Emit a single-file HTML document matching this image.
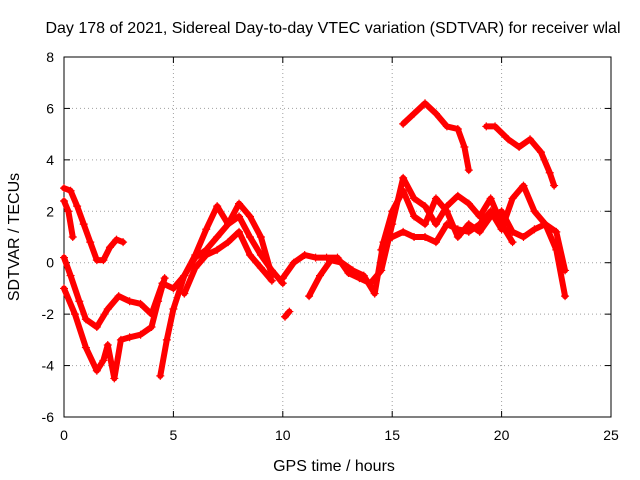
<!DOCTYPE html>
<html><head><meta charset="utf-8"><style>
body{margin:0;background:#fff;}
svg{display:block;font-family:"Liberation Sans",sans-serif;font-size:14px;}
</style></head><body>
<svg id="chart" width="640" height="480">
<rect width="640" height="480" fill="#fff"/>
<text x="333" y="33" text-anchor="middle" font-size="16">Day 178 of 2021, Sidereal Day-to-day VTEC variation (SDTVAR) for receiver wlal</text>
<text x="334" y="471" text-anchor="middle" font-size="16">GPS time / hours</text>
<text transform="translate(19,237) rotate(-90)" text-anchor="middle" font-size="16">SDTVAR / TECUs</text>
<g id="grid"></g><g id="axes"></g><g id="marks"></g>
</svg>
<script>
const xTicks=[0,5,10,15,20,25];
const yTicks=[-6,-4,-2,0,2,4,6,8];
const s1=[[0,2.9],[0.3,2.8],[0.6,2.2],[0.9,1.5],[1.2,0.8],[1.5,0.1],[1.8,0.1],[2.1,0.6],[2.4,0.9],[2.7,0.8]];
const s2=[[0,2.4],[0.2,2.0],[0.4,1.0]];
const s3=[[0,0.2],[0.3,-0.5],[0.7,-1.5],[1.0,-2.2],[1.5,-2.5],[2.0,-1.8],[2.5,-1.3],[3.0,-1.5],[3.5,-1.6],[4.0,-2.0],[4.5,-0.8],[5.0,-1.0],[5.5,-0.5],[6.0,0.3],[6.5,1.3],[7.0,2.2],[7.5,1.5],[8.0,2.3],[8.5,1.8],[9.0,1.0],[9.5,-0.5]];
const s4=[[0,-1.0],[0.5,-2.0],[1.0,-3.3],[1.5,-4.2],[1.8,-3.8],[2.0,-3.2],[2.3,-4.5],[2.6,-3.0],[3.0,-2.9],[3.5,-2.8],[4.0,-2.5],[4.3,-1.5],[4.6,-0.6]];
const s5=[[4.4,-4.4],[4.7,-3.0],[5.0,-1.8],[5.5,-0.5],[6.0,0.2],[6.5,0.5],[7.0,1.0],[7.5,1.5],[8.0,1.8],[8.5,1.0],[9.0,0.3],[9.5,-0.3],[10.0,-0.8]];
const s6=[[5.5,-1.2],[6.0,-0.2],[6.5,0.3],[7.0,0.5],[7.5,0.8],[8.0,1.2],[8.5,0.3],[9.0,-0.2],[9.5,-0.7]];
const s7=[[10.1,-2.1],[10.3,-1.9]];
const s8=[[10.0,-0.6],[10.5,0.0],[11.0,0.3],[11.5,0.2],[12.0,0.2],[12.5,0.2],[13.0,-0.4],[13.5,-0.6],[14.0,-0.8],[14.5,-0.3],[15.0,1.5],[15.5,3.3],[16.0,2.5],[16.5,2.2],[17.0,1.5],[17.5,2.2],[18.0,2.6],[18.5,2.3],[19.0,1.8],[19.5,2.5],[20.0,1.5],[20.5,0.8]];
const s9=[[11.2,-1.3],[11.7,-0.5],[12.2,0.1],[12.7,0.0],[13.2,-0.3],[13.7,-0.5],[14.2,-1.2],[14.6,0.8],[15.0,1.0],[15.5,1.2],[16.0,1.0],[16.5,1.0],[17.0,0.8],[17.5,1.5],[18.0,1.3],[18.5,1.2],[19.0,1.5],[19.5,2.0],[20.0,1.3],[20.5,2.5],[21.0,3.0],[21.5,2.0],[22.0,1.5],[22.5,0.5],[22.9,-1.3]];
const s10=[[15.5,5.4],[16.0,5.8],[16.5,6.2],[17.0,5.8],[17.5,5.3],[18.0,5.2],[18.3,4.5],[18.5,3.6]];
const s11=[[19.3,5.3],[19.7,5.3],[20.3,4.8],[20.8,4.5],[21.3,4.8],[21.8,4.3],[22.2,3.5],[22.4,3.0]];
const s12=[[14.5,0.5],[15.0,2.0],[15.5,2.8],[16.0,1.8],[16.5,1.5],[17.0,2.5],[17.5,2.0],[18.0,1.0],[18.5,1.5],[19.0,1.2],[19.5,1.8],[20.0,2.0],[20.5,1.2],[21.0,1.0],[21.5,1.3],[22.0,1.5],[22.5,1.2],[22.9,-0.3]];
const seriesList=[s1,s2,s3,s4,s5,s6,s7,s8,s9,s10,s11,s12];

const L=64,R=611,T=57,B=417;
const X=v=>L+(v-0)/(25-0)*(R-L);
const Y=v=>B-(v+6)/(8+6)*(B-T);
const NS="http://www.w3.org/2000/svg";
function mk(tag,attrs,parent){const e=document.createElementNS(NS,tag);for(const k in attrs)e.setAttribute(k,attrs[k]);parent.appendChild(e);return e;}
const grid=document.getElementById('grid'),axes=document.getElementById('axes'),marks=document.getElementById('marks');
xTicks.forEach(t=>{
  const x=X(t);
  if(t>0&&t<25){const g=mk('line',{x1:x,x2:x,y1:T,y2:B,stroke:'#a0a0a0','stroke-dasharray':'1,3'},grid);
  
  }
  mk('line',{x1:x,x2:x,y1:B,y2:B-6,stroke:'#000'},axes);
  mk('line',{x1:x,x2:x,y1:T,y2:T+6,stroke:'#000'},axes);
  const tx=mk('text',{x:x,y:B+23,'text-anchor':'middle'},axes);tx.textContent=t;
  
  
});
yTicks.forEach(t=>{
  const y=Y(t);
  if(t>-6&&t<8){const g=mk('line',{x1:L,x2:R,y1:y,y2:y,stroke:'#a0a0a0','stroke-dasharray':'1,3'},grid);
  
  }
  mk('line',{x1:L,x2:L+6,y1:y,y2:y,stroke:'#000'},axes);
  mk('line',{x1:R,x2:R-6,y1:y,y2:y,stroke:'#000'},axes);
  const tx=mk('text',{x:L-10,y:y+5,'text-anchor':'end'},axes);tx.textContent=t;
  
  
});
const frame=mk('rect',{x:L,y:T,width:R-L,height:B-T,fill:'none',stroke:'#000'},axes);


seriesList.forEach((s,i)=>{
  const g=mk('g',{},marks);
  
  
  mk('polyline',{points:s.map(p=>X(p[0])+','+Y(p[1])).join(' '),fill:'none',stroke:'#f00','stroke-width':6,'stroke-linejoin':'round','stroke-linecap':'round'},g);
  s.forEach(p=>{
    const x=X(p[0]),y=Y(p[1]);
    const m=mk('path',{d:`M${x-4},${y}H${x+4}M${x},${y-4}V${y+4}`,stroke:'#f00','stroke-width':1.2},g);
    
    
  });
});
</script>
</body></html>
